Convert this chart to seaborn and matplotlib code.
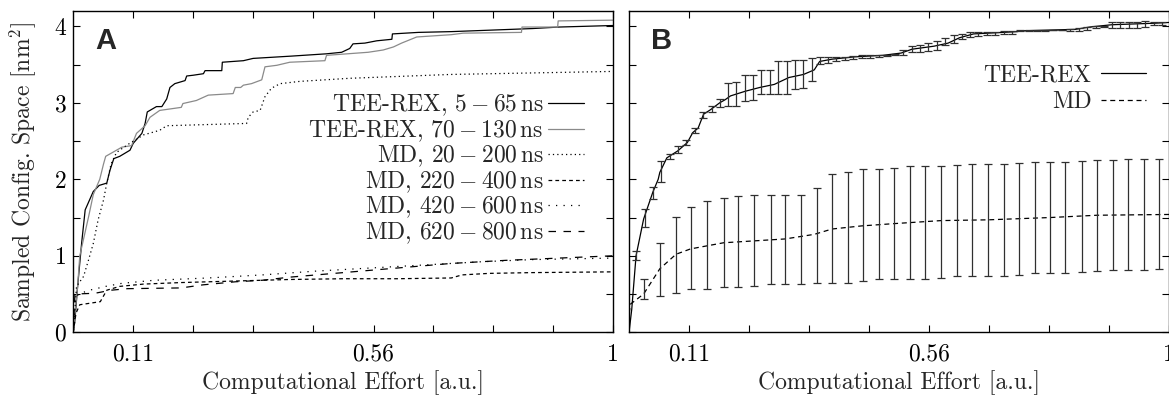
import matplotlib
matplotlib.use("Agg")
from matplotlib import pyplot as plt
import seaborn as sns

# Panel A: sampled configurational space versus effort
tee_a1_x = [0, 0.003, 0.008, 0.0155, 0.022, 0.037, 0.048, 0.062, 0.068, 0.075, 0.086, 0.105,
            0.111, 0.127, 0.133, 0.137, 0.154, 0.164, 0.173, 0.179, 0.188, 0.207, 0.21, 0.222,
            0.241, 0.244, 0.275, 0.276, 0.315, 0.333, 0.404, 0.469, 0.497, 0.512, 0.518, 0.54,
            0.562, 0.59, 0.591, 0.639, 0.7, 0.85, 0.9, 1.0]
tee_a1_y = [0, 0.16, 0.6, 1.17, 1.6, 1.84, 1.92, 1.95, 2.12, 2.27, 2.3, 2.38,
            2.47, 2.6, 2.73, 2.88, 2.95, 2.95, 3.05, 3.2, 3.25, 3.29, 3.35, 3.36,
            3.38, 3.42, 3.42, 3.53, 3.55, 3.58, 3.61, 3.64, 3.66, 3.71, 3.77, 3.78,
            3.81, 3.83, 3.9, 3.92, 3.93, 3.97, 3.99, 4.01]

tee_a2_x = [0, 0.004, 0.008, 0.012, 0.028, 0.037, 0.049, 0.056, 0.06, 0.075, 0.09, 0.108,
            0.117, 0.133, 0.142, 0.16, 0.2, 0.203, 0.228, 0.25, 0.296, 0.3, 0.31, 0.315,
            0.33, 0.349, 0.355, 0.377, 0.401, 0.466, 0.469, 0.546, 0.574, 0.593, 0.608, 0.636,
            0.7, 0.722, 0.83, 0.831, 0.897, 0.898, 1.0]
tee_a2_y = [0, 0.3, 0.6, 1.0, 1.5, 1.8, 2.0, 2.2, 2.3, 2.36, 2.42, 2.44,
            2.6, 2.7, 2.81, 2.9, 2.94, 2.99, 3.03, 3.1, 3.12, 3.2, 3.2, 3.23,
            3.25, 3.3, 3.47, 3.49, 3.53, 3.55, 3.62, 3.66, 3.69, 3.73, 3.78, 3.86,
            3.89, 3.91, 3.92, 3.99, 3.99, 4.07, 4.08]

md_a1_x = [0, 0.006, 0.019, 0.028, 0.037, 0.046, 0.056, 0.062, 0.07, 0.08, 0.1, 0.13, 0.16,
           0.173, 0.321, 0.324, 0.333, 0.346, 0.355, 0.367, 0.383, 0.42, 0.512, 0.698, 0.85, 1.0]
md_a1_y = [0, 0.6, 0.73, 0.94, 1.16, 1.47, 1.73, 1.95, 2.2, 2.35, 2.45, 2.58, 2.64,
           2.7, 2.73, 2.81, 2.88, 2.9, 3.08, 3.19, 3.25, 3.28, 3.32, 3.37, 3.39, 3.41]

md_a2_x = [0, 0.005, 0.012, 0.05, 0.062, 0.086, 0.13, 0.2, 0.3, 0.4, 0.5, 0.6, 0.7, 0.72,
           0.77, 0.85, 1.0]
md_a2_y = [0, 0.25, 0.36, 0.4, 0.55, 0.6, 0.63, 0.65, 0.67, 0.69, 0.7, 0.7, 0.71, 0.75,
           0.77, 0.78, 0.79]

md_a3_x = [0, 0.004, 0.01, 0.03, 0.06, 0.09, 0.15, 0.25, 0.35, 0.45, 0.55, 0.65, 0.75, 0.85, 1.0]
md_a3_y = [0, 0.45, 0.5, 0.55, 0.6, 0.64, 0.68, 0.71, 0.75, 0.8, 0.84, 0.88, 0.92, 0.95, 0.97]

md_a4_x = [0, 0.003, 0.04, 0.07, 0.1, 0.2, 0.24, 0.3, 0.35, 0.4, 0.5, 0.6, 0.7, 0.8, 0.9, 1.0]
md_a4_y = [0, 0.5, 0.51, 0.55, 0.57, 0.58, 0.62, 0.66, 0.68, 0.72, 0.78, 0.84, 0.9, 0.94,
           0.97, 1.0]

labels_a = [r"TEE-REX, $5-65\,$ns", r"TEE-REX, $70-130\,$ns", r"MD, $20-200\,$ns",
            r"MD, $220-400\,$ns", r"MD, $420-600\,$ns", r"MD, $620-800\,$ns"]

# Panel B: averages with error bars
tee_b_x = [0, 0.005, 0.013, 0.027, 0.044, 0.054, 0.057, 0.07, 0.09, 0.108, 0.118, 0.128,
           0.138, 0.151, 0.168, 0.178, 0.188, 0.215, 0.242, 0.269, 0.296, 0.323, 0.343, 0.353,
           0.376, 0.417, 0.47, 0.504, 0.524, 0.565, 0.591, 0.612, 0.638, 0.719, 0.726, 0.827,
           0.853, 0.894, 0.974, 1.0]
tee_b_y = [0, 0.3, 1.0, 1.48, 1.83, 2.0, 2.09, 2.28, 2.37, 2.48, 2.61, 2.67,
           2.85, 2.91, 3.0, 3.04, 3.09, 3.15, 3.2, 3.24, 3.33, 3.37, 3.43, 3.54,
           3.57, 3.6, 3.62, 3.65, 3.7, 3.74, 3.78, 3.85, 3.9, 3.93, 3.94, 3.96,
           3.99, 4.02, 4.04, 4.05]

tee_bar_x = [0.013, 0.029, 0.044, 0.060, 0.075, 0.091, 0.106, 0.122, 0.137, 0.153, 0.168,
             0.183, 0.199, 0.214, 0.230, 0.245, 0.261, 0.276, 0.292, 0.307, 0.323, 0.338,
             0.353, 0.369, 0.384, 0.400, 0.415, 0.431, 0.446, 0.462, 0.477, 0.493, 0.508,
             0.524, 0.539, 0.554, 0.570, 0.585, 0.601, 0.616, 0.632, 0.647, 0.663, 0.678,
             0.694, 0.709, 0.724, 0.740, 0.755, 0.771, 0.786, 0.802, 0.817, 0.833, 0.848,
             0.864, 0.879, 0.894, 0.910, 0.925, 0.941, 0.956, 0.972, 0.987]
tee_bar_mid = [1.0, 1.49, 1.82, 2.1, 2.3, 2.39, 2.48, 2.64, 2.84, 2.92, 3.0,
               3.11, 3.11, 3.19, 3.2, 3.27, 3.27, 3.33, 3.33, 3.37, 3.38, 3.44,
               3.55, 3.56, 3.57, 3.58, 3.59, 3.6, 3.6, 3.61, 3.62, 3.63, 3.66,
               3.7, 3.71, 3.73, 3.75, 3.8, 3.83, 3.87, 3.89, 3.9, 3.91, 3.91,
               3.92, 3.92, 3.94, 3.94, 3.94, 3.94, 3.95, 3.95, 3.95, 3.96, 3.97,
               3.99, 4.0, 4.02, 4.02, 4.02, 4.02, 4.03, 4.04, 4.04]
tee_bar_err = [0.06, 0.12, 0.08, 0.14, 0.03, 0.045, 0.03, 0.03, 0.045, 0.035, 0.05,
               0.15, 0.155, 0.17, 0.165, 0.16, 0.16, 0.22, 0.21, 0.19, 0.185, 0.15,
               0.045, 0.035, 0.03, 0.02, 0.02, 0.02, 0.02, 0.015, 0.01, 0.01, 0.03,
               0.04, 0.05, 0.055, 0.06, 0.045, 0.05, 0.03, 0.03, 0.025, 0.02, 0.02,
               0.02, 0.015, 0.005, 0.005, 0.005, 0.005, 0.005, 0.005, 0.01, 0.02, 0.02,
               0.01, 0.01, 0.04, 0.04, 0.04, 0.04, 0.04, 0.02, 0.02]

md_b_x = [0, 0.003, 0.027, 0.057, 0.087, 0.114, 0.175, 0.289, 0.343, 0.376, 0.43, 0.49,
          0.578, 0.665, 0.78, 0.867, 1.0]
md_b_y = [0.25, 0.37, 0.5, 0.83, 1.02, 1.09, 1.17, 1.22, 1.28, 1.35, 1.39, 1.42,
          1.46, 1.47, 1.5, 1.53, 1.54]

md_bar_x = [0.027, 0.057, 0.087, 0.114, 0.144, 0.175, 0.202, 0.232, 0.262, 0.289, 0.319,
            0.348, 0.376, 0.405, 0.433, 0.462, 0.491, 0.521, 0.549, 0.578, 0.607, 0.636,
            0.665, 0.694, 0.722, 0.751, 0.78, 0.808, 0.838, 0.867, 0.896, 0.924, 0.953, 0.981]
md_bar_lo = [0.43, 0.47, 0.52, 0.56, 0.57, 0.59, 0.59, 0.6, 0.63, 0.63, 0.63, 0.64, 0.65,
             0.64, 0.67, 0.69, 0.7, 0.7, 0.7, 0.71, 0.73, 0.73, 0.73, 0.74, 0.75, 0.77,
             0.78, 0.78, 0.79, 0.8, 0.81, 0.82, 0.82, 0.83]
md_bar_hi = [0.70, 1.17, 1.51, 1.64, 1.71, 1.76, 1.78, 1.79, 1.8, 1.8, 1.8, 1.89, 2.07,
             2.1, 2.13, 2.13, 2.15, 2.17, 2.17, 2.17, 2.19, 2.2, 2.2, 2.2, 2.21, 2.22,
             2.23, 2.23, 2.24, 2.25, 2.25, 2.26, 2.26, 2.26]

xtick_pos = [0.111, 0.222, 0.333, 0.444, 0.556, 0.667, 0.778, 0.889, 1.0]
xtick_lab = ["0.11", "", "", "", "0.56", "", "", "", "1"]
ytick_pos = [0, 0.5, 1, 1.5, 2, 2.5, 3, 3.5, 4]
ytick_lab = ["0", "", "1", "", "2", "", "3", "", "4"]

sns.set_theme(style="ticks")
plt.rcParams["font.family"] = ["cmr10", "DejaVu Serif"]
plt.rcParams["mathtext.fontset"] = "cm"
plt.rcParams["axes.formatter.use_mathtext"] = True
FS = 17

fig = plt.figure(figsize=(11.69, 3.96), dpi=100)
axA = fig.add_axes([0.0627, 0.1609, 0.4619, 0.8114])
axB = fig.add_axes([0.5381, 0.1609, 0.4619, 0.8114])


def style_axis(ax, show_ylabels):
    ax.set_xlim(0, 1)
    ax.set_ylim(0, 4.2)
    ax.set_xticks(xtick_pos)
    ax.set_xticklabels(xtick_lab)
    ax.set_yticks(ytick_pos)
    ax.set_yticklabels(ytick_lab if show_ylabels else [])
    ax.tick_params(direction="in", top=True, right=True, length=5, width=0.8,
                   labelsize=FS, colors="black")
    ax.tick_params(axis="x", pad=8)
    ax.tick_params(axis="y", pad=5)
    for s in ax.spines.values():
        s.set_linewidth(1.0)
        s.set_color("black")
        s.set_visible(True)
    ax.set_xlabel("Computational Effort [a.u.]", fontsize=FS)
    ax.xaxis.set_label_coords(0.5, -0.118)


# ---- panel A
lw = 0.9
sns.lineplot(x=tee_a1_x, y=tee_a1_y, ax=axA, color="black", lw=lw, estimator=None,
             sort=False, label=labels_a[0])
sns.lineplot(x=tee_a2_x, y=tee_a2_y, ax=axA, color="#8a8a8a", lw=lw, estimator=None,
             sort=False, label=labels_a[1])
sns.lineplot(x=md_a1_x, y=md_a1_y, ax=axA, color="black", lw=lw, estimator=None,
             sort=False, linestyle=(0, (1, 2.5)), label=labels_a[2])
sns.lineplot(x=md_a2_x, y=md_a2_y, ax=axA, color="black", lw=lw, estimator=None,
             sort=False, linestyle=(0, (3, 2.5)), label=labels_a[3])
sns.lineplot(x=md_a3_x, y=md_a3_y, ax=axA, color="black", lw=lw, estimator=None,
             sort=False, linestyle=(0, (1, 5)), label=labels_a[4])
sns.lineplot(x=md_a4_x, y=md_a4_y, ax=axA, color="black", lw=lw, estimator=None,
             sort=False, linestyle=(0, (6, 6)), label=labels_a[5])
style_axis(axA, True)
axA.set_ylabel(r"Sampled Config. Space [nm$^2$]", fontsize=FS)
axA.yaxis.set_label_coords(-0.066, 0.5)
axA.legend(loc="upper right", bbox_to_anchor=(0.945, 0.745), frameon=False,
           markerfirst=False, fontsize=FS, handlelength=1.5, handletextpad=0.2,
           labelspacing=0.0, borderpad=0, borderaxespad=0)
axA.text(0.04, 0.95, "A", transform=axA.transAxes, fontsize=21, fontweight="bold",
         family="Liberation Sans", va="top", ha="left")

# ---- panel B
sns.lineplot(x=tee_b_x, y=tee_b_y, ax=axB, color="black", lw=lw, estimator=None,
             sort=False, label="TEE-REX")
sns.lineplot(x=md_b_x, y=md_b_y, ax=axB, color="black", lw=lw, estimator=None,
             sort=False, linestyle=(0, (4, 3)), label="MD")
axB.errorbar(tee_bar_x, tee_bar_mid, yerr=tee_bar_err, fmt="none", ecolor="#303030",
             elinewidth=0.9, capsize=3, capthick=0.9)
md_mid = [(lo + hi) / 2 for lo, hi in zip(md_bar_lo, md_bar_hi)]
md_err = [(hi - lo) / 2 for lo, hi in zip(md_bar_lo, md_bar_hi)]
axB.errorbar(md_bar_x, md_mid, yerr=md_err, fmt="none", ecolor="#303030",
             elinewidth=0.9, capsize=3, capthick=0.9)
style_axis(axB, False)
axB.set_ylabel("")
axB.legend(loc="upper right", bbox_to_anchor=(0.957, 0.835), frameon=False,
           markerfirst=False, fontsize=FS, handlelength=1.9, handletextpad=0.4,
           labelspacing=0.2, borderpad=0, borderaxespad=0)
axB.text(0.04, 0.95, "B", transform=axB.transAxes, fontsize=21, fontweight="bold",
         family="Liberation Sans", va="top", ha="left")

fig.savefig("out.png", dpi=100)
